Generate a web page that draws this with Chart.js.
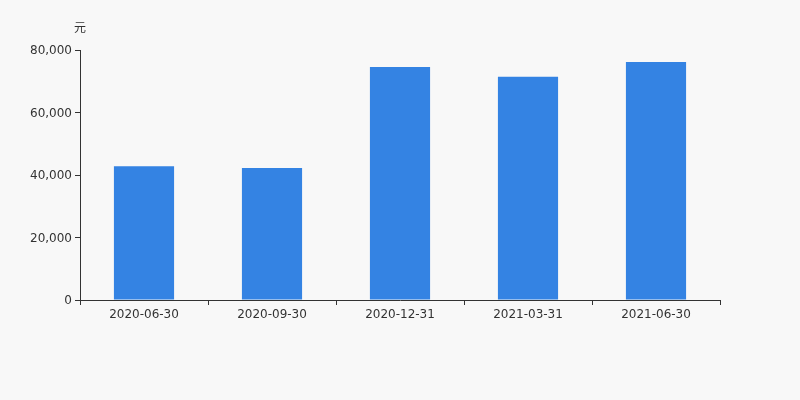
<!DOCTYPE html>
<html>
<head>
<meta charset="utf-8">
<script src="https://cdn.jsdelivr.net/npm/chart.js@4/dist/chart.umd.min.js"></script>
<style>
  html, body { margin: 0; padding: 0; background: #f8f8f8; }
  #wrap { width: 800px; height: 400px; }
</style>
</head>
<body>
<div id="wrap"><canvas id="myChart" width="800" height="400"></canvas></div>
<script>
var categories = ['2020-06-30', '2020-09-30', '2020-12-31', '2021-03-31', '2021-06-30'];
var values = [42780, 42240, 74560, 71460, 76160];
var unitLabel = '元';

var unitPlugin = {
    id: 'unitLabel',
    afterDraw: function (chart) {
        var ctx = chart.ctx;
        ctx.save();
        ctx.font = '12px "DejaVu Sans", "Noto Sans CJK SC", sans-serif';
        ctx.fillStyle = '#333';
        ctx.textAlign = 'center';
        ctx.textBaseline = 'middle';
        ctx.fillText(unitLabel, chart.chartArea.left, 29);
        ctx.restore();
    }
};

Chart.defaults.font.family = '"DejaVu Sans", sans-serif';
Chart.defaults.font.size = 12;
Chart.defaults.color = '#333';

function createChart() {
    var ctx = document.getElementById('myChart').getContext('2d');
    new Chart(ctx, {
        type: 'bar',
        data: {
            labels: categories,
            datasets: [{
                data: values,
                backgroundColor: '#3483e3',
                barPercentage: 0.94,
                categoryPercentage: 0.5
            }]
        },
        options: {
            responsive: false,
            animation: false,
            layout: { padding: { top: 50, right: 80, left: 0, bottom: 0 } },
            plugins: { legend: { display: false }, tooltip: { enabled: false } },
            scales: {
                x: {
                    grid: { drawOnChartArea: false, drawTicks: true, tickLength: 5, color: '#333', offset: true },
                    border: { display: true, color: '#333' },
                    ticks: { padding: 3, color: '#333' },
                    afterFit: function (s) { s.height = 100; }
                },
                y: {
                    min: 0,
                    max: 80000,
                    grid: { drawOnChartArea: false, drawTicks: true, tickLength: 5, color: '#333' },
                    border: { display: true, color: '#333' },
                    ticks: {
                        stepSize: 20000,
                        padding: 3,
                        labelOffset: 1,
                        color: '#333',
                        callback: function (v) { return v.toLocaleString('en-US'); }
                    },
                    afterFit: function (s) { s.width = 80; }
                }
            }
        },
        plugins: [unitPlugin]
    });
}
createChart();
</script>
</body>
</html>
